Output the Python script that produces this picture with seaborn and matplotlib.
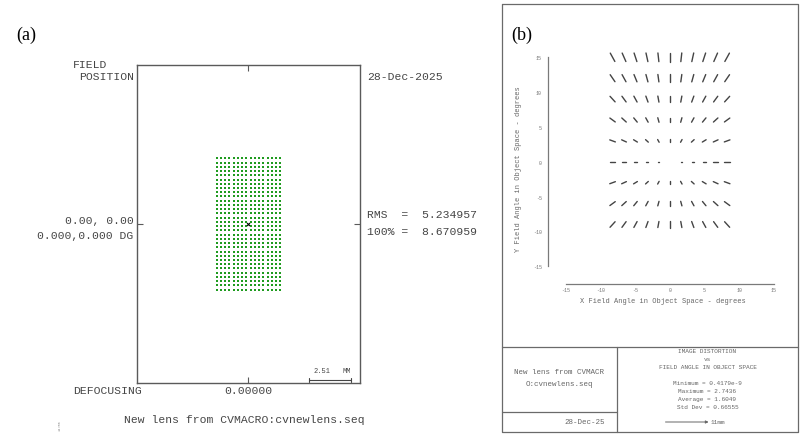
import matplotlib
matplotlib.use("Agg")
import matplotlib.pyplot as plt
import numpy as np
import pandas as pd
import seaborn as sns

# ---- (a) spot diagram, ray intercepts in mm ----
SPOT_X_MM = [-1.91, -1.66, -1.40, -1.15, -0.89, -0.64, -0.38, -0.13,
             0.13, 0.38, 0.64, 0.89, 1.15, 1.40, 1.66, 1.91]
SPOT_Y_MM = [-3.95, -3.70, -3.44, -3.19, -2.93, -2.68, -2.42, -2.17,
             -1.91, -1.66, -1.40, -1.15, -0.89, -0.64, -0.38, -0.13,
             0.13, 0.38, 0.64, 0.89, 1.15, 1.40, 1.66, 1.91,
             2.17, 2.42, 2.68, 2.93, 3.19, 3.44, 3.70, 3.95]
RMS_VALUE = "5.234957"
PCT100_VALUE = "8.670959"
SCALE_MM = 2.51
DEFOCUS = "0.00000"

# ---- (b) distortion grid, field angles in degrees ----
FIELD_X_DEG = [-8.25, -6.6, -4.95, -3.3, -1.65, 0.0, 1.65, 3.3, 4.95, 6.6, 8.25]
FIELD_Y_DEG = [15, 12, 9, 6, 3, 0, -3, -6, -9]
DISTORTION_PCT = [
    [2.74, 2.66, 2.59, 2.54, 2.51, 2.50, 2.51, 2.54, 2.59, 2.66, 2.74],
    [2.44, 2.34, 2.26, 2.19, 2.15, 2.14, 2.15, 2.19, 2.26, 2.34, 2.44],
    [2.16, 2.03, 1.92, 1.83, 1.77, 1.75, 1.77, 1.83, 1.92, 2.03, 2.16],
    [1.91, 1.74, 1.58, 1.44, 1.35, 1.32, 1.35, 1.44, 1.58, 1.74, 1.91],
    [1.72, 1.50, 1.28, 1.07, 0.89, 0.81, 0.89, 1.07, 1.28, 1.50, 1.72],
    [1.60, 1.30, 0.98, 0.65, 0.32, 4.179e-10, 0.32, 0.65, 0.98, 1.30, 1.60],
    [1.72, 1.50, 1.28, 1.07, 0.89, 0.81, 0.89, 1.07, 1.28, 1.50, 1.72],
    [1.91, 1.74, 1.58, 1.44, 1.35, 1.32, 1.35, 1.44, 1.58, 1.74, 1.91],
    [2.16, 2.03, 1.92, 1.83, 1.77, 1.75, 1.77, 1.83, 1.92, 2.03, 2.16],
]
AXIS_TICKS = [-15, -10, -5, 0, 5, 10, 15]
STATS_LINES = ["Minimum = 0.4179e-9", "Maximum = 2.7436",
               "Average = 1.6049", "Std Dev = 0.66555"]

W, H = 803, 439
MONO = ["Liberation Mono", "DejaVu Sans Mono"]
SERIF = ["Liberation Serif", "DejaVu Serif"]
GREEN = "#1f9b1f"
INK = "#454545"
LIGHT = "#666666"

sns.set_theme(style="white")
plt.rcParams["font.family"] = MONO
plt.rcParams["axes.unicode_minus"] = False

fig = plt.figure(figsize=(W / 100, H / 100), dpi=100)
fig.patch.set_facecolor("white")


def frac(x0, y0, x1, y1):
    return [x0 / W, 1 - y1 / H, (x1 - x0) / W, (y1 - y0) / H]


# overlay in pixel coords for the loose text and frames
ov = fig.add_axes([0, 0, 1, 1], zorder=0)
ov.set_xlim(0, W)
ov.set_ylim(H, 0)
ov.axis("off")
ov.patch.set_alpha(0)

# ---------------- panel (a) ----------------
ax_a = fig.add_axes(frac(137, 66, 360, 384), zorder=1)
px_per_mm = 16.6
ax_a.set_xlim(-111.5 / px_per_mm, 111.5 / px_per_mm)
ax_a.set_ylim(-159 / px_per_mm, 159 / px_per_mm)

gx, gy = np.meshgrid(SPOT_X_MM, SPOT_Y_MM)
spots = pd.DataFrame({"x": gx.ravel(), "y": gy.ravel()})
sns.scatterplot(data=spots, x="x", y="y", ax=ax_a, marker="s", s=3.6,
                color=GREEN, linewidth=0, legend=False)
ax_a.scatter([0], [0], marker="x", s=5, color="black", linewidths=0.8, zorder=3)

for sp in ax_a.spines.values():
    sp.set_color("#5a5a5a")
    sp.set_linewidth(1.0)
ax_a.set_xticks([0])
ax_a.set_yticks([0])
ax_a.tick_params(direction="in", length=4, width=0.8, color="#5a5a5a",
                 top=True, right=True, bottom=True, left=True,
                 labelbottom=False, labelleft=False)
ax_a.set_xlabel("")
ax_a.set_ylabel("")

# scale bar inside the box
bar_right = 6.17
bar_y = -9.40
ax_a.plot([bar_right - SCALE_MM, bar_right], [bar_y, bar_y], color=INK, lw=0.8)
for xe in (bar_right - SCALE_MM, bar_right):
    ax_a.plot([xe, xe], [bar_y - 0.1, bar_y + 0.1], color=INK, lw=0.8)
ax_a.text(bar_right - SCALE_MM + 0.75, bar_y + 0.55, f"{SCALE_MM:.2f}",
          fontsize=5, color=INK, ha="center", va="center")
ax_a.text(bar_right - 0.25, bar_y + 0.55, "MM", fontsize=5, color=INK,
          ha="center", va="center")

fs = 8.2
ov.text(16, 35, "(a)", family=SERIF, fontsize=13, color="black", va="center")
ov.text(72.7, 65.5, "FIELD", fontsize=fs, color=INK, va="center")
ov.text(79.3, 77, "POSITION", fontsize=fs, color=INK, va="center")
ov.text(133.5, 221, "0.00, 0.00", fontsize=fs, color=INK, ha="right", va="center")
ov.text(133.5, 236, "0.000,0.000 DG", fontsize=fs, color=INK, ha="right", va="center")
ov.text(366.7, 76.5, "28-Dec-2025", fontsize=fs, color=INK, va="center")
ov.text(366.7, 215.5, f"RMS  =  {RMS_VALUE}", fontsize=fs, color=INK, va="center")
ov.text(366.7, 232.5, f"100% =  {PCT100_VALUE}", fontsize=fs, color=INK, va="center")
ov.text(72.7, 391, "DEFOCUSING", fontsize=fs, color=INK, va="center")
ov.text(248, 391, DEFOCUS, fontsize=fs, color=INK, ha="center", va="center")
ov.text(244, 420, "New lens from CVMACRO:cvnewlens.seq", fontsize=fs,
        color=INK, ha="center", va="center")
ov.text(60, 426, "14:56", fontsize=2.6, color="#888888", rotation=90,
        ha="center", va="center")

# ---------------- panel (b) ----------------
ov.text(511, 35, "(b)", family=SERIF, fontsize=13, color="black", va="center")
frame_kw = dict(color="#6a6a6a", lw=0.9)
ov.plot([502, 798, 798, 502, 502], [5, 5, 433, 433, 5], **frame_kw)
ov.plot([502, 798], [348, 348], **frame_kw)
ov.plot([617, 617], [348, 433], **frame_kw)
ov.plot([502, 617], [412.6, 412.6], **frame_kw)

ax_b = fig.add_axes(frac(565.7, 58.3, 774, 267.3), zorder=1)
ax_b.patch.set_alpha(0)
ax_b.set_xlim(-15, 15)
ax_b.set_ylim(-15, 15)

seg_scale = 0.5  # degrees of drawn length per percent of distortion
rows = []
seg = 0
for i, fy in enumerate(FIELD_Y_DEG):
    for j, fx in enumerate(FIELD_X_DEG):
        mag = DISTORTION_PCT[i][j]
        ang = np.arctan2(fy, fx)
        half = 0.5 * mag * seg_scale
        dx, dy = half * np.cos(ang), half * np.sin(ang)
        rows.append((seg, fx - dx, fy - dy))
        rows.append((seg, fx + dx, fy + dy))
        seg += 1
segs = pd.DataFrame(rows, columns=["seg", "x", "y"])
sns.lineplot(data=segs, x="x", y="y", units="seg", estimator=None, sort=False,
             color="#444444", lw=1.0, ax=ax_b, legend=False, clip_on=False)

sns.despine(ax=ax_b, offset=12.7)
for side in ("left", "bottom"):
    ax_b.spines[side].set_color("#7a7a7a")
    ax_b.spines[side].set_linewidth(0.9)
ax_b.set_xticks(AXIS_TICKS)
ax_b.set_yticks(AXIS_TICKS)
ax_b.set_xticklabels([str(t) for t in AXIS_TICKS])
ax_b.set_yticklabels([str(t) for t in AXIS_TICKS])
ax_b.tick_params(direction="inout", length=3, width=0.7, color="#7a7a7a",
                 labelsize=3.6, labelcolor="#777777")
ax_b.tick_params(axis="x", pad=0.6)
ax_b.tick_params(axis="y", pad=3)
ax_b.set_xlabel("X Field Angle in Object Space - degrees", fontsize=5,
                color=LIGHT)
ax_b.set_ylabel("Y Field Angle in Object Space - degrees", fontsize=5,
                color=LIGHT)
ax_b.xaxis.label.set_va("center")
ax_b.yaxis.label.set_va("center")
ax_b.xaxis.set_label_coords((663 - 565.7) / 208.3, -(301.7 - 267.3) / 209)
ax_b.yaxis.set_label_coords(-(565.7 - 518.3) / 208.3, (267.3 - 169) / 209)

# info table
ov.text(559.5, 373, "New lens from CVMACR", fontsize=5.4, color=LIGHT,
        ha="center", va="center")
ov.text(559.5, 385, "O:cvnewlens.seq", fontsize=5.4, color=LIGHT,
        ha="center", va="center")
ov.text(605, 423, "28-Dec-25", fontsize=5.4, color=LIGHT, ha="right", va="center")

cx = 707.5
ov.text(cx, 351.5, "IMAGE DISTORTION", fontsize=4.4, color=LIGHT, ha="center", va="center")
ov.text(cx, 359.5, "vs", fontsize=4.4, color=LIGHT, ha="center", va="center")
ov.text(cx, 367.5, "FIELD ANGLE IN OBJECT SPACE", fontsize=4.4, color=LIGHT,
        ha="center", va="center")
for k, line in enumerate(STATS_LINES):
    ov.text(cx, 383.5 + 8 * k, line, fontsize=4.4, color=LIGHT, ha="center", va="center")
ov.annotate("", xy=(708.6, 423), xytext=(665.5, 423),
            arrowprops=dict(arrowstyle="-|>", mutation_scale=4, lw=0.7,
                            color=LIGHT, shrinkA=0, shrinkB=0))
ov.text(711, 423, "11mm", fontsize=4.4, color=LIGHT, va="center")

fig.savefig("out.png", dpi=100)
